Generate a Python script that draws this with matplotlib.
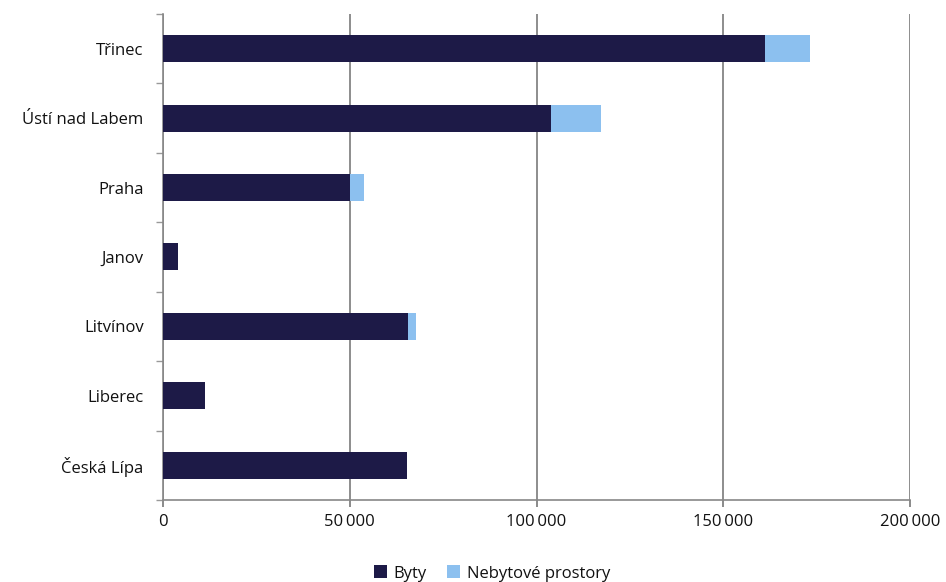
import matplotlib
matplotlib.use("Agg")
import matplotlib.pyplot as plt
from matplotlib.ticker import FixedLocator, FuncFormatter
import numpy as np

plt.rcParams['font.family'] = ['Open Sans', 'DejaVu Sans']

cities = ["Třinec", "Ústí nad Labem", "Praha", "Janov", "Litvínov", "Liberec", "Česká Lípa"]
byty = [161100, 103800, 50100, 4100, 65700, 11300, 65200]
nebytove = [12100, 13400, 3600, 0, 1900, 0, 0]
x_ticks = [0, 50000, 100000, 150000, 200000]

c_byty = "#1d1a47"
c_neb = "#8cc0ef"
text_c = "#111111"

fig = plt.figure(figsize=(9.46, 5.82), dpi=100)
ax = fig.add_axes([0.1723, 0.141, 0.962 - 0.1723, 0.976 - 0.141])

y = np.arange(len(cities))
ax.barh(y, byty, height=0.39, color=c_byty, label="Byty", zorder=3)
ax.barh(y, nebytove, left=byty, height=0.39, color=c_neb, label="Nebytové prostory", zorder=3)

ax.set_ylim(len(cities) - 0.5, -0.5)
ax.set_xlim(0, 200000)

ax.set_yticks(y)
ax.set_yticklabels(cities, fontsize=12, color=text_c, fontweight="medium")
ax.yaxis.set_minor_locator(FixedLocator(np.arange(-0.5, len(cities), 1.0)))
ax.tick_params(axis="y", which="major", length=0, pad=14)
ax.tick_params(axis="y", which="minor", length=5, color="#999999", width=1)

ax.set_xticks(x_ticks)
ax.xaxis.set_major_formatter(FuncFormatter(lambda v, p: f"{int(v):,}".replace(",", "\u2009") if v else "0"))
ax.tick_params(axis="x", which="major", length=5, color="#777777", width=1.2,
               labelsize=12, labelcolor=text_c, pad=5)

ax.grid(axis="x", color="#7a7a7a", linewidth=1.2, zorder=0)
for s in ["top", "right"]:
    ax.spines[s].set_visible(False)
ax.spines["left"].set_color("#888888")
ax.spines["left"].set_linewidth(1.2)
ax.spines["bottom"].set_color("#888888")
ax.spines["bottom"].set_linewidth(1.2)

leg = fig.legend(loc="lower center", bbox_to_anchor=(0.52, -0.025), ncol=2, frameon=False,
                 fontsize=12, handlelength=0.8, handleheight=0.8, handletextpad=0.4,
                 columnspacing=1.2)
for t in leg.get_texts():
    t.set_color(text_c)

fig.savefig("out.png", dpi=100)
